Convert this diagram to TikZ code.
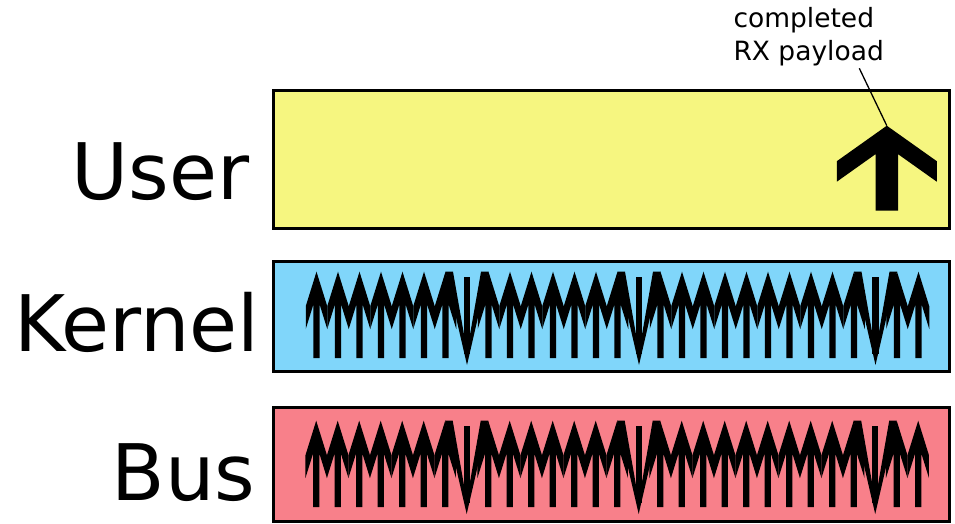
\documentclass[tikz,border=0pt]{standalone}
\usepackage{fontspec}
\setmainfont{DejaVu Sans}
\definecolor{userfill}{RGB}{246,246,128}
\definecolor{kernelfill}{RGB}{128,214,250}
\definecolor{busfill}{RGB}{248,128,138}
\tikzset{
  rowbox/.style={draw=black, line width=3pt, rectangle, inner sep=0pt, outer sep=0pt,
                 minimum width=675.7pt},
  layerlabel/.style={inner sep=0pt, outer sep=0pt, anchor=base west,
                     font=\fontsize{78}{94}\selectfont},
  note/.style={inner sep=0pt, outer sep=0pt, anchor=north west, align=left,
               font=\fontsize{26.5}{33.3}\selectfont},
  leader/.style={draw=black, line width=1.3pt},
  % big upward arrow (user layer)
  bigup/.pic={
    \fill[black] (0,0) -- (50,35.5) -- (50,56) -- (11.3,28.5) -- (11.3,85)
      -- (-11.3,85) -- (-11.3,28.5) -- (-50,56) -- (-50,35.5) -- cycle;
  },
  % narrow upward arrow, origin at its tip
  arrowu/.pic={
    \fill[black] (0,0) -- (10.75,34.5) -- (10.75,57.3) -- (3.2,33) -- (3.2,86.3)
      -- (-3.2,86.3) -- (-3.2,33) -- (-10.75,57.3) -- (-10.75,34.5) -- cycle;
  },
  % downward arrow, origin at the level of the neighbouring tips
  arrowd/.pic={
    \fill[black] (-21.5,0) -- (0,93.3) -- (21.5,0) -- (14,0) -- (0,80)
      -- (-14,0) -- cycle;
    \fill[black] (-3.2,5) rectangle (3.2,82);
  },
}
\begin{document}
\begin{tikzpicture}[x=1pt, y=-1pt]
  \useasboundingbox (0,0) rectangle (955,523);

  % layer boxes
  \node[rowbox, fill=userfill,   minimum height=138.3pt] (user)   at (611.2,159.2)  {};
  \node[rowbox, fill=kernelfill, minimum height=110.7pt] (kernel) at (611.2,316.35) {};
  \node[rowbox, fill=busfill,    minimum height=114.4pt] (bus)    at (611.2,464.5)  {};

  % layer names
  \node[layerlabel] (userlabel)   at (71.7,199.3)  {User};
  \node[layerlabel] (kernellabel) at (14.1,351.7)  {Kernel};
  \node[layerlabel] (buslabel)    at (111.7,500)   {Bus};

  % completed payload handed up to user space
  \pic at (886.8,125.7) {bigup};
  \coordinate (usertip) at (886.8,125.7);
  \node[note] (payload) at (733.5,7.2) {completed\\RX payload};
  \coordinate (leaderstart) at (859.3,68.3);
  \draw[leader] (leaderstart) -- (usertip);

  % traffic in the kernel and on the bus
  \foreach \k [count=\i from 0] in {u,u,u,u,u,u,u,d,u,u,u,u,u,u,u,d,u,u,u,u,u,u,u,u,u,u,d,u,u}{
    \pic at (316.5+21.5*\i,271.7) {arrow\k};
    \pic at (316.2+21.5*\i,420.7) {arrow\k};
  }
\end{tikzpicture}
\end{document}
